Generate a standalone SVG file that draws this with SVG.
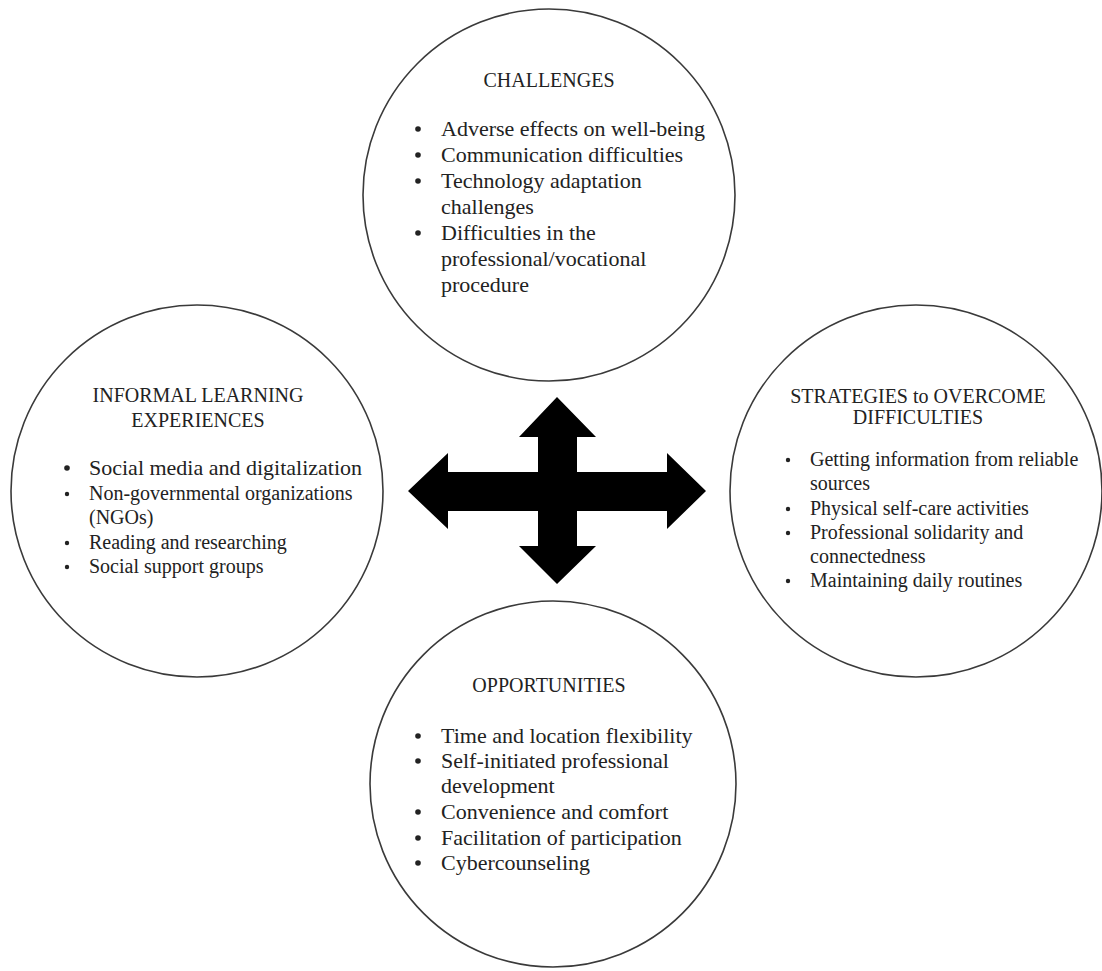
<svg xmlns="http://www.w3.org/2000/svg" width="1102" height="971" viewBox="0 0 1102 971">
  <style>
    .ring { fill: #ffffff; stroke: #3a3a3a; stroke-width: 1.6; }
    .head { font-family: "Liberation Serif", "Times New Roman", serif; font-size: 20px; fill: #222222; text-anchor: middle; }
    .body { font-family: "Liberation Serif", "Times New Roman", serif; font-size: 22px; fill: #222222; }
    .body20 { font-family: "Liberation Serif", "Times New Roman", serif; font-size: 20px; fill: #222222; }
    .dot { fill: #222222; }
    .arrow { fill: #000000; stroke: none; }
  </style>
  <rect x="0" y="0" width="1102" height="971" fill="#ffffff"/>

  <g id="challenges">
    <circle class="ring" cx="549" cy="195" r="186"/>
    <text class="head" x="549" y="87">CHALLENGES</text>
    <circle class="dot" cx="418" cy="129" r="2.8"/>
    <text class="body" x="441" y="136">Adverse effects on well-being</text>
    <circle class="dot" cx="418" cy="155" r="2.8"/>
    <text class="body" x="441" y="162">Communication difficulties</text>
    <circle class="dot" cx="418" cy="181" r="2.8"/>
    <text class="body" x="441" y="188">Technology adaptation</text>
    <text class="body" x="441" y="214">challenges</text>
    <circle class="dot" cx="418" cy="233" r="2.8"/>
    <text class="body" x="441" y="240">Difficulties in the</text>
    <text class="body" x="441" y="266">professional/vocational</text>
    <text class="body" x="441" y="292">procedure</text>
  </g>

  <g id="informal-learning">
    <circle class="ring" cx="197" cy="491" r="186"/>
    <text class="head" x="198" y="402">INFORMAL LEARNING</text>
    <text class="head" x="198" y="427">EXPERIENCES</text>
    <circle class="dot" cx="67" cy="468" r="2.8"/>
    <text class="body" x="89" y="475">Social media and digitalization</text>
    <circle class="dot" cx="67" cy="494" r="2.2"/>
    <text class="body20" x="89" y="500">Non-governmental organizations</text>
    <text class="body20" x="89" y="524">(NGOs)</text>
    <circle class="dot" cx="67" cy="543" r="2.2"/>
    <text class="body20" x="89" y="549">Reading and researching</text>
    <circle class="dot" cx="67" cy="567" r="2.2"/>
    <text class="body20" x="89" y="573">Social support groups</text>
  </g>

  <g id="strategies">
    <circle class="ring" cx="916" cy="491" r="186"/>
    <text class="head" x="918" y="403">STRATEGIES to OVERCOME</text>
    <text class="head" x="918" y="424">DIFFICULTIES</text>
    <circle class="dot" cx="788" cy="460" r="2.2"/>
    <text class="body20" x="810" y="466">Getting information from reliable</text>
    <text class="body20" x="810" y="490">sources</text>
    <circle class="dot" cx="788" cy="509" r="2.2"/>
    <text class="body20" x="810" y="515">Physical self-care activities</text>
    <circle class="dot" cx="788" cy="533" r="2.2"/>
    <text class="body20" x="810" y="539">Professional solidarity and</text>
    <text class="body20" x="810" y="563">connectedness</text>
    <circle class="dot" cx="788" cy="581" r="2.2"/>
    <text class="body20" x="810" y="587">Maintaining daily routines</text>
  </g>

  <g id="opportunities">
    <circle class="ring" cx="553" cy="784" r="183"/>
    <text class="head" x="549" y="692">OPPORTUNITIES</text>
    <circle class="dot" cx="418" cy="736" r="2.8"/>
    <text class="body" x="441" y="743">Time and location flexibility</text>
    <circle class="dot" cx="418" cy="761" r="2.8"/>
    <text class="body" x="441" y="768">Self-initiated professional</text>
    <text class="body" x="441" y="793">development</text>
    <circle class="dot" cx="418" cy="812" r="2.8"/>
    <text class="body" x="441" y="819">Convenience and comfort</text>
    <circle class="dot" cx="418" cy="838" r="2.8"/>
    <text class="body" x="441" y="845">Facilitation of participation</text>
    <circle class="dot" cx="418" cy="863" r="2.8"/>
    <text class="body" x="441" y="870">Cybercounseling</text>
  </g>

  <g id="connectors">
    <polygon class="arrow" points="557,397 596,437 577,437 577,472 667,472 667,453 706,491 667,529 667,511 577,511 577,546 596,546 557,584 519,546 538,546 538,511 448,511 448,529 408,491 448,453 448,472 538,472 538,437 519,437"/>
  </g>
</svg>
